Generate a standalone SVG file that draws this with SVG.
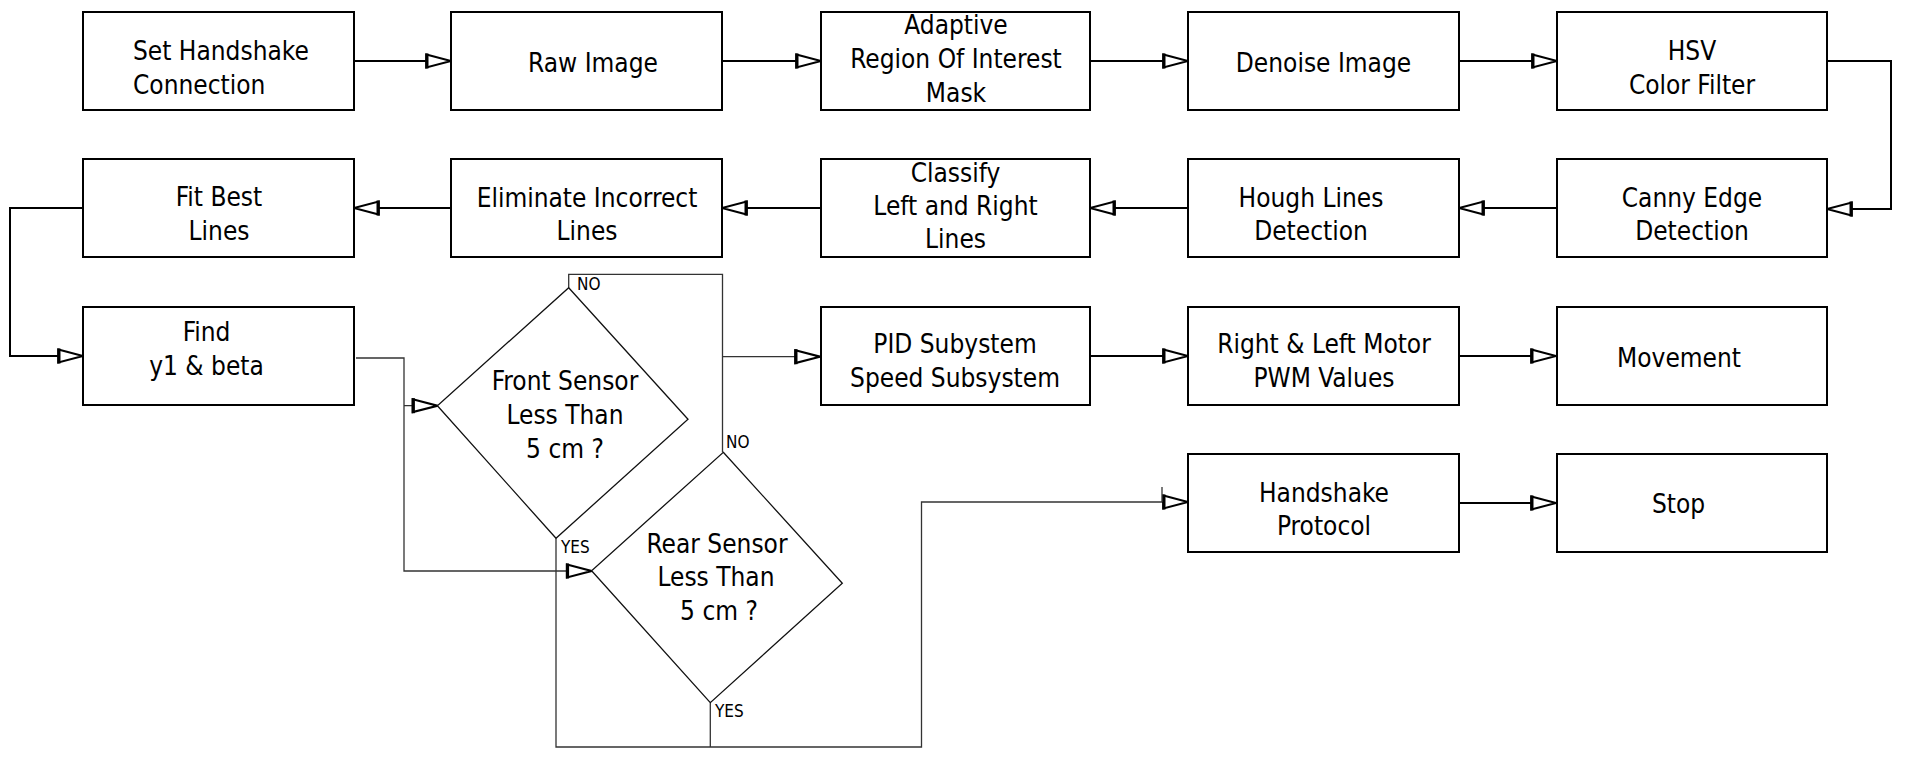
<svg xmlns="http://www.w3.org/2000/svg" width="1908" height="762" viewBox="0 0 1908 762">
<style>
.box{fill:#fff;stroke:#000;stroke-width:2}
.dia{fill:#fff;stroke:#111;stroke-width:1.3}
.t{font-family:"DejaVu Sans Condensed","Liberation Sans",sans-serif;font-size:26px;fill:#000;text-anchor:middle}
.s{font-family:"DejaVu Sans Condensed","Liberation Sans",sans-serif;font-size:17px;fill:#000}
.c{fill:none;stroke:#000;stroke-width:2}
.ct{fill:none;stroke:#333;stroke-width:1.3}
</style>
<defs>
<marker id="ah" markerUnits="userSpaceOnUse" markerWidth="30" markerHeight="20" viewBox="-2 -8 28 16" refX="24" refY="0" orient="auto">
<path d="M1,-6 L24,0 L1,6 Z" fill="#fff" stroke="#000" stroke-width="2"/>
<path d="M1.5,-7 L1.5,7" stroke="#000" stroke-width="3"/>
</marker>
</defs>
<rect width="1908" height="762" fill="#fff"/>
<g id="connectors">
<path class="c" d="M354,61 H451" marker-end="url(#ah)"/>
<path class="c" d="M722,61 H821" marker-end="url(#ah)"/>
<path class="c" d="M1090,61 H1188" marker-end="url(#ah)"/>
<path class="c" d="M1459,61 H1557" marker-end="url(#ah)"/>
<path class="c" d="M1827,61 H1891 V209 H1827" marker-end="url(#ah)"/>
<path class="c" d="M1557,208 H1459" marker-end="url(#ah)"/>
<path class="c" d="M1188,208 H1090" marker-end="url(#ah)"/>
<path class="c" d="M821,208 H722" marker-end="url(#ah)"/>
<path class="c" d="M451,208 H354" marker-end="url(#ah)"/>
<path class="c" d="M83,208 H10 V356 H83" marker-end="url(#ah)"/>
<path class="c" d="M1090,356 H1188" marker-end="url(#ah)"/>
<path class="c" d="M1459,356 H1556" marker-end="url(#ah)"/>
<path class="c" d="M1459,503 H1556" marker-end="url(#ah)"/>
<path class="ct" d="M356,358 H404 V571 H591.6" marker-end="url(#ah)"/>
<path class="ct" d="M404,405.7 H437.4" marker-end="url(#ah)"/>
<path class="ct" d="M568.7,287.7 V274.3 H722.5 V452.3"/>
<path class="ct" d="M722.5,356.7 H820" marker-end="url(#ah)"/>
<path class="ct" d="M556,538.3 V747 H921.5 V502 H1188" marker-end="url(#ah)"/>
<path class="ct" d="M710.3,702.7 V747"/>
<path class="ct" d="M1162,487 V502"/>
</g>
<g id="n1"><rect class="box" x="83" y="12" width="271" height="98"/><text class="t" style="text-anchor:start" x="133" y="60">Set Handshake</text><text class="t" style="text-anchor:start" x="133" y="94">Connection</text></g>
<g id="n2"><rect class="box" x="451" y="12" width="271" height="98"/><text class="t" x="593" y="72">Raw Image</text></g>
<g id="n3"><rect class="box" x="821" y="12" width="269" height="98"/><text class="t" x="956" y="34">Adaptive</text><text class="t" x="956" y="68">Region Of Interest</text><text class="t" x="956" y="102">Mask</text></g>
<g id="n4"><rect class="box" x="1188" y="12" width="271" height="98"/><text class="t" x="1323.5" y="72">Denoise Image</text></g>
<g id="n5"><rect class="box" x="1557" y="12" width="270" height="98"/><text class="t" x="1692" y="60">HSV</text><text class="t" x="1692" y="94">Color Filter</text></g>
<g id="n6"><rect class="box" x="1557" y="159" width="270" height="98"/><text class="t" x="1692" y="207">Canny Edge</text><text class="t" x="1692" y="240">Detection</text></g>
<g id="n7"><rect class="box" x="1188" y="159" width="271" height="98"/><text class="t" x="1311" y="207">Hough Lines</text><text class="t" x="1311" y="240">Detection</text></g>
<g id="n8"><rect class="box" x="821" y="159" width="269" height="98"/><text class="t" x="955.5" y="181.5">Classify</text><text class="t" x="955.5" y="215">Left and Right</text><text class="t" x="955.5" y="248">Lines</text></g>
<g id="n9"><rect class="box" x="451" y="159" width="271" height="98"/><text class="t" x="587" y="207">Eliminate Incorrect</text><text class="t" x="587" y="240">Lines</text></g>
<g id="n10"><rect class="box" x="83" y="159" width="271" height="98"/><text class="t" x="219" y="206">Fit Best</text><text class="t" x="219" y="240">Lines</text></g>
<g id="n11"><rect class="box" x="83" y="307" width="271" height="98"/><text class="t" x="206.5" y="341">Find</text><text class="t" x="206.5" y="375">y1 &amp; beta</text></g>
<g id="n12"><polygon class="dia" points="568.7,287.7 688,419.3 556,538.3 437.4,405.7"/><text class="t" x="565" y="390">Front Sensor</text><text class="t" x="565" y="424">Less Than</text><text class="t" x="565" y="458">5 cm ?</text></g>
<g id="n13"><polygon class="dia" points="723.3,452.3 842.3,583.3 710.3,702.7 591.6,570.7"/><text class="t" x="717" y="553">Rear Sensor</text><text class="t" x="716" y="586">Less Than</text><text class="t" x="719" y="620">5 cm ?</text></g>
<g id="n14"><rect class="box" x="821" y="307" width="269" height="98"/><text class="t" x="955" y="353">PID Subystem</text><text class="t" x="955" y="387">Speed Subsystem</text></g>
<g id="n15"><rect class="box" x="1188" y="307" width="271" height="98"/><text class="t" x="1324" y="353">Right &amp; Left Motor</text><text class="t" x="1324" y="387">PWM Values</text></g>
<g id="n16"><rect class="box" x="1557" y="307" width="270" height="98"/><text class="t" x="1679" y="367">Movement</text></g>
<g id="n17"><rect class="box" x="1188" y="454" width="271" height="98"/><text class="t" x="1324" y="502">Handshake</text><text class="t" x="1324" y="535">Protocol</text></g>
<g id="n18"><rect class="box" x="1557" y="454" width="270" height="98"/><text class="t" x="1678.5" y="513">Stop</text></g>
<g id="labels">
<text class="s" x="577" y="290">NO</text>
<text class="s" x="726" y="448">NO</text>
<text class="s" x="561" y="553">YES</text>
<text class="s" x="715" y="717">YES</text>
</g>
</svg>
